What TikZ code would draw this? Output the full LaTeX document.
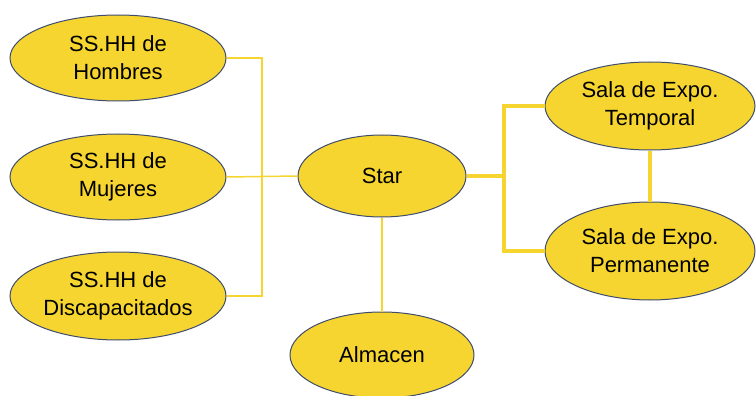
\documentclass[tikz,border=0pt]{standalone}
\usepackage{fontspec}
\setmainfont{Liberation Sans}
\usetikzlibrary{shapes.geometric}
\definecolor{amar}{HTML}{F6D530}
\definecolor{borde}{HTML}{3E4C6E}
\tikzset{
  zona/.style={ellipse, draw=borde, line width=1pt, fill=amar, inner sep=0pt, align=center,
    font=\fontsize{22}{28}\selectfont},
  enl/.style={amar, line width=1.5pt},
  enlg/.style={amar, line width=3.5pt},
}
\begin{document}
\begin{tikzpicture}[x=1pt,y=-1pt]
  \useasboundingbox (0,0) rectangle (756,396);
  % servicios higienicos
  \node[zona, minimum width=216pt, minimum height=86pt] (hom) at (118,58) {SS.HH de\\Hombres};
  \node[zona, minimum width=216pt, minimum height=86pt] (muj) at (118,177) {SS.HH de\\Mujeres};
  \node[zona, minimum width=216pt, minimum height=88pt] (dis) at (118,296) {SS.HH de\\Discapacitados};
  % centro
  \node[zona, minimum width=168pt, minimum height=82pt] (star) at (382,176) {Star};
  \node[zona, minimum width=184pt, minimum height=86pt] (alm) at (382,355) {Almacen};
  % salas
  \node[zona, minimum width=210pt, minimum height=88pt] (tem) at (650,106) {Sala de Expo.\\Temporal};
  \node[zona, minimum width=210pt, minimum height=98pt] (per) at (650,251) {Sala de Expo.\\Permanente};
  % conexiones
  \coordinate (bi) at (262,0);
  \coordinate (bd) at (504,0);
  \draw[enl] (hom.east) -- (hom.east -| bi) -- (dis.east -| bi) -- (dis.east);
  \draw[enl] (muj.east) -- (star.west);
  \draw[enl] (star.south) -- (alm.north);
  \draw[enlg] (star.east) -- (star.east -| bd);
  \draw[enlg] (tem.west) -- (tem.west -| bd) -- (per.west -| bd) -- (per.west);
  \draw[enlg] (tem.south) -- (per.north);
\end{tikzpicture}
\end{document}
